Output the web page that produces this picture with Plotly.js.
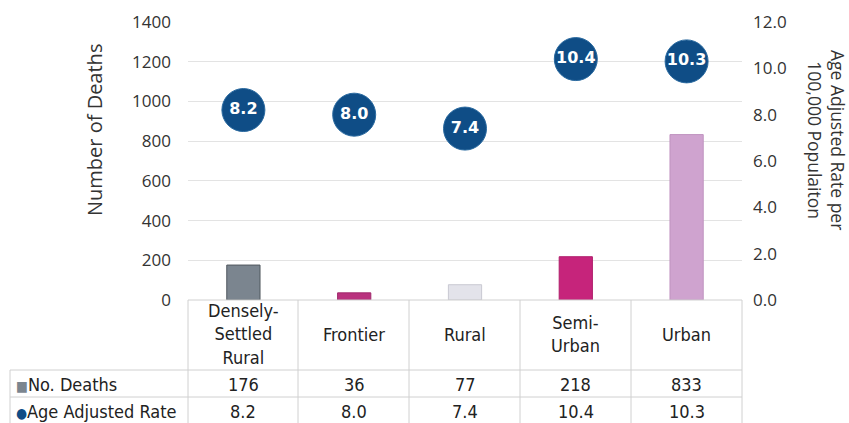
<!DOCTYPE html>
<html><head><meta charset="utf-8">
<script src="https://cdn.plot.ly/plotly-3.0.1.min.js"></script>
<style>html,body{margin:0;padding:0;background:#fff}#c{width:849px;height:423px}</style>
</head><body><div id="c"></div>
<script>
const categories = ["Densely-Settled Rural", "Frontier", "Rural", "Semi-Urban", "Urban"];
const headerLabels = ["Densely-<br>Settled<br>Rural", "Frontier", "Rural", "Semi-<br>Urban", "Urban"];
const deaths = [176, 36, 77, 218, 833];
const rates = [8.2, 8.0, 7.4, 10.4, 10.3];
const barColors = ["#7b858f", "#b9327e", "#e3e3ea", "#c6247b", "#cfa3cf"];
const barLines = ["#50575e", "#a02a6c", "#c9c9d2", "#b01f6c", "#c093c0"];
const rowLabels = ["No. Deaths", "Age Adjusted Rate"];

const tableFont = "'DejaVu Sans Condensed', 'DejaVu Sans', sans-serif";
const axisFont = "'Open Sans', 'Noto Sans', sans-serif";

const plotTop = 22, plotBottom = 300, H = plotBottom - plotTop;
const py = p => (plotBottom - p) / H; // pixel y -> paper y
const plotL = 188, plotR = 742, W = plotR - plotL;
const px = p => (p - plotL) / W;

const traces = [
  {type: "bar", x: categories, y: deaths, width: 0.3,
   marker: {color: barColors, line: {color: barLines, width: 1}},
   hoverinfo: "skip", showlegend: false},
  {type: "scatter", mode: "markers+text", x: categories, y: rates, yaxis: "y2",
   marker: {size: 43, color: "#0f4d86", line: {color: "#2a6aa0", width: 1}},
   text: rates.map(v => v.toFixed(1)), textposition: "middle center",
   textfont: {color: "#ffffff", size: 16, family: "'DejaVu Sans', sans-serif", weight: "bold"},
   cliponaxis: false, hoverinfo: "skip", showlegend: false}
];

const annotations = [];
const shapes = [];
const lineColor = "#d0d0d0";
const tf = {family: tableFont, size: 18, color: "#222"};

categories.forEach((c, i) => {
  annotations.push({x: c, xref: "x", y: py(334), yref: "paper", text: headerLabels[i],
    showarrow: false, font: tf, align: "center", yanchor: "middle"});
  annotations.push({x: c, xref: "x", y: py(384), yref: "paper", text: String(deaths[i]),
    showarrow: false, font: tf, yanchor: "middle"});
  annotations.push({x: c, xref: "x", y: py(411), yref: "paper", text: rates[i].toFixed(1),
    showarrow: false, font: tf, yanchor: "middle"});
});
annotations.push({x: px(14), xref: "paper", y: py(384), yref: "paper", xanchor: "left", yanchor: "middle",
  text: "<span style='color:#7b858f;font-size:14px'>■</span>" + rowLabels[0], showarrow: false, font: tf});
annotations.push({x: px(14), xref: "paper", y: py(411), yref: "paper", xanchor: "left", yanchor: "middle",
  text: "<span style='color:#0f4d86;font-size:14px'>●</span>" + rowLabels[1], showarrow: false, font: tf});

annotations.push({x: px(94), xref: "paper", xanchor: "center", y: py(130), yref: "paper", yanchor: "middle",
  text: "Number of Deaths", textangle: -90, showarrow: false,
  font: {family: axisFont, size: 20, color: "#333"}});
annotations.push({x: px(827), xref: "paper", xanchor: "center", y: py(140), yref: "paper", yanchor: "middle",
  text: "Age Adjusted Rate per<br>100,000 Populaiton", textangle: 90, showarrow: false,
  font: {family: axisFont, size: 17.5, color: "#333"}});

// table lines
[300, 370, 397].forEach((y, k) => {
  shapes.push({type: "line", xref: "paper", yref: "paper", x0: k === 0 ? 0 : px(10), x1: 1,
    y0: py(y), y1: py(y), line: {color: lineColor, width: 1}});
});
[10, 188, 298, 409, 520, 631, 742].forEach((x, k) => {
  shapes.push({type: "line", xref: "paper", yref: "paper", x0: px(x), x1: px(x),
    y0: py(k === 0 ? 370 : 300), y1: py(430), line: {color: lineColor, width: 1}});
});

const layout = {
  width: 849, height: 423,
  margin: {l: plotL, r: 849 - plotR, t: plotTop, b: 423 - plotBottom, pad: 0},
  paper_bgcolor: "#fff", plot_bgcolor: "#fff",
  xaxis: {showticklabels: false, showgrid: false, zeroline: false, fixedrange: true},
  yaxis: {range: [0, 1400], dtick: 200, gridcolor: "#e3e3e3", zeroline: false,
    tickfont: {family: axisFont, size: 17, color: "#333"}, ticklabelstandoff: 16, ticks: ""},
  yaxis2: {range: [0, 12], dtick: 2, tickformat: ".1f", overlaying: "y", side: "right",
    showgrid: false, zeroline: false, tickfont: {family: axisFont, size: 17, color: "#333"},
    ticklabelstandoff: 10, ticks: ""},
  annotations, shapes,
  showlegend: false
};

Plotly.newPlot("c", traces, layout, {displayModeBar: false, staticPlot: true});
</script>
</body></html>
